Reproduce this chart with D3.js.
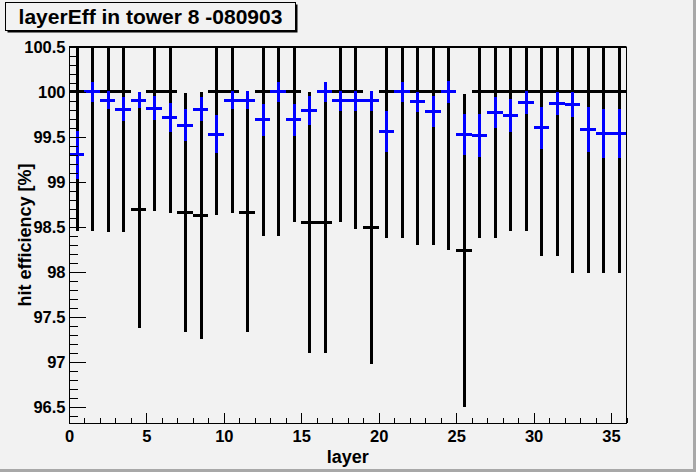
<!DOCTYPE html>
<meta charset="utf-8">
<style>

body {
  margin: 0;
  background: #f2f2f2;
}

svg {
  display: block;
  font-family: "Liberation Sans", Arial, sans-serif;
  font-weight: bold;
}

.axis path,
.axis line {
  stroke: #000;
  shape-rendering: crispEdges;
}

.axis text {
  font-size: 16.5px;
  font-weight: bold;
  fill: #000;
}

.black-bar {
  stroke: #000;
  stroke-width: 3;
  shape-rendering: crispEdges;
}

.blue-bar {
  stroke: #0000ff;
  stroke-width: 3;
  shape-rendering: crispEdges;
}

</style>
<svg width="696" height="472"></svg>

<script src="https://d3js.org/d3.v7.min.js"></script>
<script>

// one bin per layer, 0..35
var layers = d3.range(36);

// black series: efficiency and its error
var blackVal = [100, 100, 100, 100, 98.69, 100, 100, 98.66, 98.63, 100, 100, 98.66,
                100, 100, 100, 98.55, 98.55, 100, 100, 98.49, 100, 100, 100, 100,
                100, 98.24, 100, 100, 100, 100, 100, 100, 100, 100, 100, 100];
var blackErr = [1.54, 1.54, 1.56, 1.56, 1.31, 1.32, 1.34, 1.33, 1.37, 1.37, 1.34, 1.33,
                1.60, 1.60, 1.45, 1.45, 1.45, 1.45, 1.52, 1.51, 1.62, 1.62, 1.70, 1.70,
                1.76, 1.74, 1.62, 1.62, 1.54, 1.54, 1.82, 1.82, 2.01, 2.01, 2.01, 2.01];

// blue series
var blueVal = [99.30, 100.00, 99.91, 99.81, 99.91, 99.82, 99.72, 99.63, 99.81, 99.53, 99.91, 99.91,
               99.69, 100.00, 99.69, 99.79, 100.00, 99.90, 99.90, 99.90, 99.56, 100.00, 99.89, 99.78,
               100.00, 99.53, 99.52, 99.77, 99.74, 99.88, 99.60, 99.87, 99.86, 99.58, 99.54, 99.54];
var blueErr = [0.27, 0.11, 0.10, 0.13, 0.09, 0.13, 0.16, 0.18, 0.13, 0.21, 0.10, 0.10,
               0.18, 0.11, 0.18, 0.16, 0.11, 0.11, 0.11, 0.11, 0.23, 0.11, 0.11, 0.17,
               0.12, 0.23, 0.24, 0.17, 0.18, 0.13, 0.23, 0.13, 0.14, 0.25, 0.27, 0.27];

var xTicks = [0, 5, 10, 15, 20, 25, 30, 35];
var yTicks = [96.5, 97, 97.5, 98, 98.5, 99, 99.5, 100, 100.5];
var yTickLabels = ["96.5", "97", "97.5", "98", "98.5", "99", "99.5", "100", "100.5"];

var svg = d3.select("svg"),
    width = +svg.attr("width"),
    height = +svg.attr("height");

var frameL = 69, frameR = 626.5, frameT = 47, frameB = 423;

var x = d3.scaleLinear().domain([0, 36]).range([frameL, frameR]);
var y = d3.scaleLinear().domain([96.322, 100.5]).range([frameB, frameT]);

// canvas bevel
svg.append("rect").attr("x", 0).attr("y", 0).attr("width", width).attr("height", height).attr("fill", "#f2f2f2");
svg.append("rect").attr("x", 0).attr("y", height - 3).attr("width", width).attr("height", 3).attr("fill", "#a8a8a8");
svg.append("rect").attr("x", width - 3).attr("y", 0).attr("width", 3).attr("height", height).attr("fill", "#a8a8a8");

svg.append("clipPath").attr("id", "frame-clip")
  .append("rect")
    .attr("x", frameL).attr("y", frameT)
    .attr("width", frameR - frameL).attr("height", frameB - frameT);

var plot = svg.append("g").attr("clip-path", "url(#frame-clip)");

function drawSeries(cls, vals, errs) {
  var g = plot.append("g");
  g.selectAll(".v")
    .data(layers)
    .enter().append("line")
      .attr("class", cls)
      .attr("x1", function(i) { return Math.round(x(i + 0.5)) + 0.5; })
      .attr("x2", function(i) { return Math.round(x(i + 0.5)) + 0.5; })
      .attr("y1", function(i) { return y(vals[i] + errs[i]); })
      .attr("y2", function(i) { return y(vals[i] - errs[i]); });
  g.selectAll(".h")
    .data(layers)
    .enter().append("line")
      .attr("class", cls)
      .attr("x1", function(i) { return x(i); })
      .attr("x2", function(i) { return x(i + 1); })
      .attr("y1", function(i) { return y(vals[i]); })
      .attr("y2", function(i) { return y(vals[i]); });
}

drawSeries("black-bar", blackVal, blackErr);
drawSeries("blue-bar", blueVal, blueErr);

// axes, ticks pointing inward
svg.append("g")
    .attr("class", "axis")
    .attr("transform", "translate(0," + frameB + ")")
    .call(d3.axisBottom(x).tickValues(d3.range(0, 37, 1)).tickSizeInner(-5).tickSizeOuter(0).tickFormat(""));

svg.append("g")
    .attr("class", "axis")
    .attr("transform", "translate(0," + frameB + ")")
    .call(d3.axisBottom(x).tickValues(xTicks).tickSizeInner(-10).tickSizeOuter(0).tickPadding(7)
      .tickFormat(d3.format("d")))
    .call(function(g) { g.select(".domain").remove(); });

svg.append("g")
    .attr("class", "axis")
    .attr("transform", "translate(" + frameL + ",0)")
    .call(d3.axisLeft(y).tickValues(d3.range(964, 1006, 1).map(function(v) { return v / 10; }))
      .tickSizeInner(-8.5).tickSizeOuter(0).tickFormat(""));

svg.append("g")
    .attr("class", "axis")
    .attr("transform", "translate(" + frameL + ",0)")
    .call(d3.axisLeft(y).tickValues(yTicks).tickSizeInner(-17).tickSizeOuter(0).tickPadding(3.5)
      .tickFormat(function(d, i) { return yTickLabels[i]; }))
    .call(function(g) { g.select(".domain").remove(); });

// frame
svg.append("rect")
    .attr("x", frameL).attr("y", frameT)
    .attr("width", frameR - frameL).attr("height", frameB - frameT)
    .attr("fill", "none").attr("stroke", "#000")
    .attr("shape-rendering", "crispEdges");
svg.append("line")
    .attr("x1", frameL).attr("x2", frameR)
    .attr("y1", frameT).attr("y2", frameT)
    .attr("stroke", "#000").attr("stroke-width", 2);

// axis titles
svg.append("text")
    .attr("x", (frameL + frameR) / 2)
    .attr("y", 463)
    .attr("text-anchor", "middle")
    .style("font-size", "18px")
    .text("layer");

svg.append("text")
    .attr("transform", "translate(31," + (frameT + frameB) / 2 + ") rotate(-90)")
    .attr("text-anchor", "middle")
    .style("font-size", "18px")
    .text("hit efficiency [%]");

// title box
svg.append("rect")
    .attr("x", 7.5).attr("y", 4.5).attr("width", 290).attr("height", 28)
    .attr("fill", "#000");
svg.append("rect")
    .attr("x", 5.5).attr("y", 2.5).attr("width", 290).attr("height", 28)
    .attr("fill", "#f2f2f2").attr("stroke", "#000");

svg.append("text")
    .attr("x", 150.5)
    .attr("y", 23.5)
    .attr("text-anchor", "middle")
    .style("font-size", "21px")
    .text("layerEff in tower 8 -080903");

</script>
